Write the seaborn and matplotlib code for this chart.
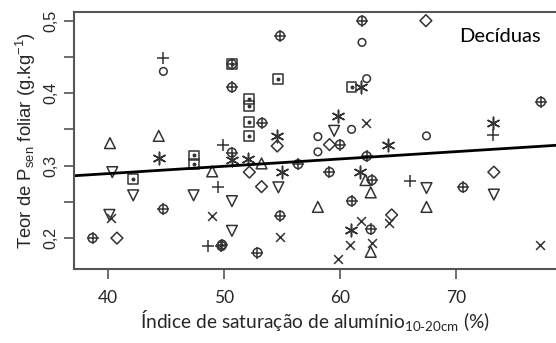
import pandas as pd
import matplotlib
matplotlib.use('Agg')
import matplotlib.pyplot as plt
import seaborn as sns

# values (x = % Al saturation, y = P foliar)
plus_x = [44.8, 49.9, 49.5, 48.6, 66.0, 73.2]
plus_y = [0.449, 0.329, 0.270, 0.189, 0.279, 0.342]

circ_x = [44.8, 61.9, 62.3, 61.0, 58.1, 58.1, 67.45]
circ_y = [0.430, 0.470, 0.420, 0.350, 0.340, 0.319, 0.341]

oplus_x = [61.9, 54.85, 50.7, 50.7, 53.3, 77.3, 50.7, 60.0, 56.4, 59.1, 62.3,
           62.75, 61.0, 54.85, 49.85, 52.9, 62.65, 44.8, 38.7, 49.8, 70.6]
oplus_y = [0.500, 0.479, 0.440, 0.408, 0.359, 0.388, 0.318, 0.329, 0.302, 0.291, 0.313,
           0.280, 0.251, 0.231, 0.191, 0.180, 0.212, 0.240, 0.200, 0.189, 0.270]

sqdot_x = [50.7, 54.7, 61.0, 52.2, 52.2, 52.2, 52.2, 42.2, 47.4, 47.4]
sqdot_y = [0.440, 0.420, 0.409, 0.392, 0.382, 0.360, 0.341, 0.282, 0.314, 0.302]

tup_x = [40.2, 44.4, 49.0, 53.25, 62.2, 62.65, 58.1, 62.65, 67.45]
tup_y = [0.331, 0.341, 0.292, 0.303, 0.280, 0.263, 0.243, 0.181, 0.243]

tdown_x = [40.4, 42.2, 47.4, 40.15, 50.7, 50.7, 54.7, 59.5, 67.45, 73.25]
tdown_y = [0.291, 0.259, 0.259, 0.232, 0.251, 0.210, 0.270, 0.348, 0.269, 0.260]

diam_x = [67.4, 40.8, 54.6, 59.1, 52.2, 53.25, 64.45, 73.25]
diam_y = [0.500, 0.200, 0.327, 0.329, 0.291, 0.271, 0.232, 0.291]

ast_x = [44.4, 54.6, 59.85, 61.8, 73.2, 64.1, 50.7, 52.05, 55.0, 61.7, 60.95]
ast_y = [0.310, 0.341, 0.369, 0.408, 0.359, 0.329, 0.308, 0.309, 0.291, 0.291, 0.211]

cross_x = [62.2, 49.0, 40.3, 54.85, 61.8, 60.85, 62.75, 59.85, 64.25, 77.2]
cross_y = [0.359, 0.230, 0.228, 0.201, 0.223, 0.191, 0.193, 0.171, 0.221, 0.191]

# fitted line (ends)
line_x = [37.1, 78.6]
line_y = [0.286, 0.328]

y_ticks = [0.2, 0.25, 0.3, 0.35, 0.4, 0.45, 0.5]
y_labels = ['0,2', '', '0,3', '', '0,4', '', '0,5']
x_ticks = [40, 50, 60, 70]


def build_df():
    groups = {
        'plus': (plus_x, plus_y), 'circ': (circ_x, circ_y), 'oplus': (oplus_x, oplus_y),
        'sqdot': (sqdot_x, sqdot_y), 'tup': (tup_x, tup_y), 'tdown': (tdown_x, tdown_y),
        'diam': (diam_x, diam_y), 'ast': (ast_x, ast_y), 'cross': (cross_x, cross_y),
    }
    frames = []
    for name, (xs, ys) in groups.items():
        frames.append(pd.DataFrame({'x': xs, 'y': ys, 'grupo': name}))
    return pd.concat(frames, ignore_index=True)


def plot(df):
    sns.set_style('ticks')
    plt.rcParams['font.family'] = ['Liberation Sans', 'DejaVu Sans']
    ink = '#333333'

    fig = plt.figure(figsize=(5.56, 3.43), dpi=100)
    ax = fig.add_axes([0.133, 0.215, 0.867, 0.751])

    # marker layers: (group, marker, size, hollow)
    layers = [
        ('plus', '+', 70, False),
        ('circ', 'o', 30, True),
        ('oplus', 'o', 40, True),
        ('oplus', '+', 70, False),
        ('sqdot', 's', 50, True),
        ('sqdot', 'o', 3, False),
        ('tup', '^', 60, True),
        ('tdown', 'v', 60, True),
        ('diam', 'D', 36, True),
        ('ast', (6, 2, 0), 80, False),
        ('cross', 'x', 40, False),
    ]
    for grp, mk, size, hollow in layers:
        sub = df[df['grupo'] == grp]
        if hollow:
            sns.scatterplot(data=sub, x='x', y='y', marker=mk, s=size, ax=ax,
                            facecolor='none', edgecolor=ink, linewidth=1.1, legend=False)
        else:
            sns.scatterplot(data=sub, x='x', y='y', marker=mk, s=size, ax=ax,
                            color=ink, edgecolor=ink, linewidth=1.1, legend=False)

    sns.lineplot(x=line_x, y=line_y, ax=ax, color='black', linewidth=2)

    ax.set_xlim(37.1, 78.6)
    ax.set_ylim(0.157, 0.5124)
    ax.set_xticks(x_ticks)
    ax.set_xticklabels([str(t) for t in x_ticks], fontsize=12.5, fontfamily='Lato')
    ax.set_yticks(y_ticks)
    ax.set_yticklabels(y_labels, fontsize=11.5, rotation=90, va='center')
    ax.tick_params(direction='out', length=7, width=1.2, color='#555555', pad=4)
    ax.tick_params(axis='x', pad=8)

    for side in ['left', 'bottom', 'top']:
        ax.spines[side].set_color('#555555')
        ax.spines[side].set_linewidth(1.5)
    ax.spines['right'].set_visible(False)

    ax.set_xlabel('Índice de saturação de alumínio$_{\\mathregular{10\\text{-}20cm}}$ (%)',
                  fontsize=13.8, fontfamily='Lato', labelpad=2)
    ax.set_ylabel('Teor de P$_{\\mathregular{sen}}$ foliar (g.kg$^{\\mathregular{-1}}$)',
                  fontsize=13.3, labelpad=4)
    ax.text(0.884, 0.905, 'Decíduas', transform=ax.transAxes, fontsize=14.5,
            fontfamily='Lato', ha='center', va='center', color='black')

    plt.savefig('out.png', dpi=100)


if __name__ == '__main__':
    df = build_df()
    plot(df)
